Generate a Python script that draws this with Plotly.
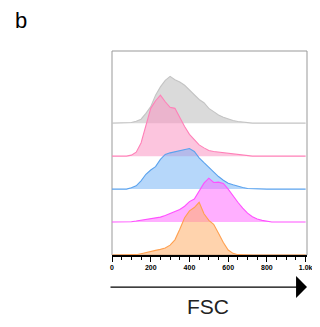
import plotly.graph_objects as go

# FSC grid (common x for all histograms)
fsc = [0, 25, 50, 75, 100, 125, 150, 175, 200, 225, 250, 275, 300, 325, 350, 375, 400,
       425, 450, 475, 500, 525, 550, 575, 600, 625, 650, 675, 700, 725, 750, 775, 800,
       825, 850, 875, 900, 925, 950, 975, 1000]

gray = [0, 0, 0, 0, 0.02, 0.06, 0.12, 0.3, 0.5, 0.85, 1.1, 1.3, 1.42, 1.32, 1.25, 1.15, 1.0,
        0.85, 0.72, 0.62, 0.45, 0.35, 0.25, 0.18, 0.12, 0.08, 0.05, 0.03, 0.01, 0, 0, 0, 0,
        0, 0, 0, 0, 0, 0, 0, 0]
pink = [0, 0, 0, 0, 0.03, 0.12, 0.4, 0.9, 1.45, 1.68, 1.85, 1.65, 1.48, 1.45, 1.15, 0.9, 0.66,
        0.5, 0.34, 0.25, 0.17, 0.14, 0.12, 0.1, 0.08, 0.06, 0.04, 0.02, 0.01, 0, 0, 0, 0,
        0, 0, 0, 0, 0, 0, 0, 0]
blue = [0, 0, 0, 0, 0.04, 0.1, 0.25, 0.45, 0.58, 0.68, 0.9, 1.05, 1.1, 1.13, 1.16, 1.21, 1.23,
        1.14, 0.95, 0.8, 0.66, 0.5, 0.38, 0.27, 0.18, 0.13, 0.08, 0.05, 0.02, 0.01, 0, 0, 0,
        0, 0, 0, 0, 0, 0, 0, 0]
magenta = [0, 0, 0, 0, 0.01, 0.03, 0.05, 0.07, 0.1, 0.12, 0.15, 0.2, 0.26, 0.32, 0.38, 0.48, 0.62,
           0.7, 0.95, 1.18, 1.33, 1.2, 1.21, 1.17, 1.0, 0.78, 0.6, 0.42, 0.27, 0.16, 0.09, 0.05, 0.02,
           0, 0, 0, 0, 0, 0, 0, 0]
orange = [0, 0, 0, 0, 0, 0.01, 0.04, 0.08, 0.11, 0.14, 0.17, 0.21, 0.3, 0.46, 0.78, 1.13, 1.34,
          1.44, 1.6, 1.25, 1.05, 0.93, 0.66, 0.38, 0.15, 0.05, 0.01, 0, 0, 0, 0, 0, 0,
          0, 0, 0, 0, 0, 0, 0, 0]

tick_vals = [0, 200, 400, 600, 800, 1000]
tick_text = ["0", "200", "400", "600", "800", "1.0k"]

series = [
    (gray, 4, "rgba(205,205,205,0.75)", "#c4c4c4"),
    (pink, 3, "rgba(250,150,195,0.55)", "#ff80b8"),
    (blue, 2, "rgba(110,175,245,0.5)", "#5aa2ee"),
    (magenta, 1, "rgba(255,110,255,0.55)", "#ff50ff"),
    (orange, 0, "rgba(255,175,105,0.55)", "#ffa050"),
]

fig = go.Figure()
for vals, off, fillc, linec in series:
    fig.add_trace(go.Scatter(x=fsc, y=[off] * len(fsc), mode="lines",
                             line=dict(width=0), hoverinfo="skip", showlegend=False))
    fig.add_trace(go.Scatter(x=fsc, y=[off + v for v in vals], mode="lines",
                             fill="tonexty", fillcolor=fillc,
                             line=dict(color=linec, width=1.1), showlegend=False))

fig.update_layout(
    width=312, height=319,
    margin=dict(l=104, r=7, t=43, b=72),
    paper_bgcolor="white", plot_bgcolor="white",
    font=dict(family="Liberation Sans, Arial, sans-serif", color="black"),
    xaxis=dict(range=[0, 1007], showgrid=False, zeroline=False,
               showline=True, linecolor="black", linewidth=1.5,
               tickvals=tick_vals, ticktext=tick_text, ticks="outside",
               ticklen=5, tickwidth=1, tickcolor="black",
               tickfont=dict(size=7, family="Liberation Sans, Arial", weight="bold", color="black"),
               minor=dict(dtick=50, tick0=0, ticks="outside", ticklen=3, tickwidth=1, tickcolor="black")),
    yaxis=dict(range=[0, 6.19], showgrid=False, zeroline=False, showticklabels=False,
               showline=False),
    shapes=[dict(type="rect", xref="paper", yref="paper", x0=0, x1=1, y0=0, y1=1,
                 line=dict(color="#999999", width=1), layer="below")],
    annotations=[
        dict(xref="paper", yref="paper", x=1.0, y=-0.157, ax=-198, ay=0,
             axref="pixel", ayref="pixel", showarrow=True, arrowhead=1,
             arrowsize=2.8, arrowwidth=1.3, arrowcolor="black", text=""),
        dict(xref="paper", yref="paper", x=0.49, y=-0.25, text="FSC", showarrow=False,
             font=dict(size=21, color="#222"), xanchor="center", yanchor="middle"),
        dict(xref="paper", yref="paper", x=-0.51, y=1.15, text="b", showarrow=False,
             font=dict(size=22, color="black"), xanchor="left", yanchor="middle"),
    ],
)
fig.write_html("out.html")
